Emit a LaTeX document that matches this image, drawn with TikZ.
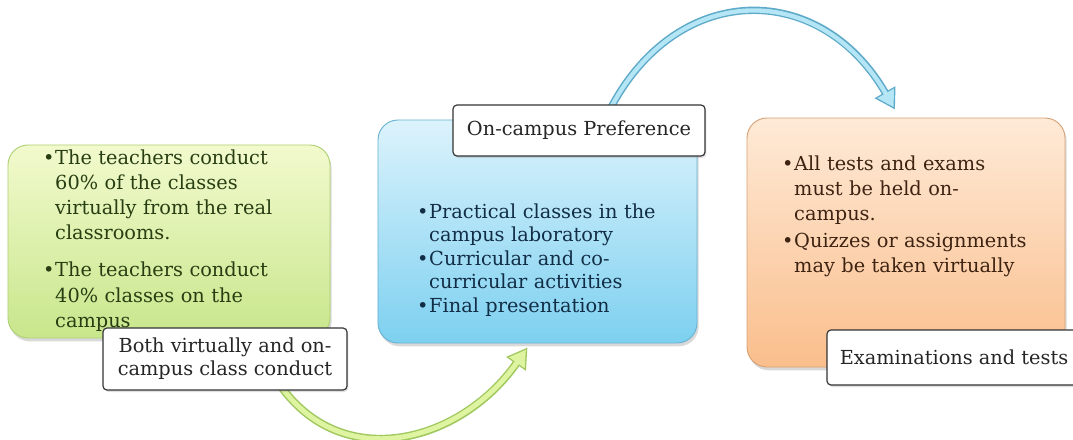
\documentclass[tikz,border=0pt]{standalone}
\usepackage{fontspec}
\setmainfont{DejaVu Serif}
\usepackage{tikz}
\usetikzlibrary{arrows.meta, shadows, positioning}

\definecolor{GreenTop}{RGB}{242,250,205}
\definecolor{GreenBot}{RGB}{200,230,140}
\definecolor{GreenLine}{RGB}{175,208,115}
\definecolor{GreenText}{RGB}{40,62,18}
\definecolor{GreenBand}{RGB}{222,244,160}
\definecolor{GreenEdge}{RGB}{160,200,95}
\definecolor{BlueTop}{RGB}{220,243,252}
\definecolor{BlueBot}{RGB}{125,208,240}
\definecolor{BlueLine}{RGB}{105,178,210}
\definecolor{BlueText}{RGB}{18,45,70}
\definecolor{BlueBand}{RGB}{180,230,246}
\definecolor{BlueEdge}{RGB}{95,170,200}
\definecolor{OrangeTop}{RGB}{254,234,215}
\definecolor{OrangeBot}{RGB}{250,190,140}
\definecolor{OrangeLine}{RGB}{215,162,118}
\definecolor{OrangeText}{RGB}{62,35,18}

% bullet item with hanging indent
\newcommand{\pitem}[1]{\par\hangindent=0.36cm\hangafter=1\noindent
  \makebox[0.36cm][l]{\textbullet}#1\par}

\begin{document}
\begin{tikzpicture}[x=0.03cm, y=0.03cm,
  stage/.style={rectangle, rounded corners=0.6cm, line width=0.8pt,
    drop shadow={opacity=0.3, shadow xshift=0.05cm, shadow yshift=-0.1cm}},
  %
  greenstage/.style={stage, draw=GreenLine, top color=GreenTop,
    bottom color=GreenBot, minimum width=9.66cm, minimum height=5.79cm},
  %
  bluestage/.style={stage, draw=BlueLine, top color=BlueTop,
    bottom color=BlueBot, minimum width=9.57cm, minimum height=6.69cm},
  %
  orangestage/.style={stage, draw=OrangeLine, top color=OrangeTop,
    bottom color=OrangeBot, minimum width=9.54cm, minimum height=7.47cm},
  %
  points/.style={anchor=base west, inner sep=0pt, text width=9cm, align=left,
    font=\fontsize{16.5}{21.5}\selectfont},
  %
  caption/.style={rectangle, rounded corners=0.12cm, draw=black!80,
    line width=1pt, fill=white, align=center, text=black!85,
    font=\fontsize{16.5}{19.6}\selectfont,
    drop shadow={opacity=0.25, shadow xshift=0.04cm, shadow yshift=-0.06cm}},
  %
  gband/.style={line width=0.24cm, draw=GreenEdge,
    -{Triangle[length=0.6cm, width=0.68cm]}},
  gfill/.style={line width=0.15cm, draw=GreenBand, shorten >=0.08cm,
    -{Triangle[length=0.48cm, width=0.54cm]}},
  bband/.style={line width=0.22cm, draw=BlueEdge,
    -{Triangle[length=0.6cm, width=0.68cm]}},
  bfill/.style={line width=0.13cm, draw=BlueBand, shorten >=0.08cm,
    -{Triangle[length=0.48cm, width=0.54cm]}}
  ]

  \useasboundingbox (0,0) rectangle (1073,439);

  % stages
  \node [greenstage] (virtual) at (169,197.5) {};
  \node [bluestage] (campus) at (537.5,207.5) {};
  \node [orangestage] (exams) at (906,196.5) {};

  \node [points, text=GreenText] (virtualtext) at (43,300) {%
    \pitem{The teachers conduct\newline 60\% of the classes\newline
      virtually from the real\newline classrooms.}
    \vspace{0.36cm}
    \pitem{The teachers conduct\newline 40\% classes on the\newline campus}};
  \node [points, text=BlueText, font=\fontsize{16.5}{20}\selectfont]
    (campustext) at (417,244) {%
    \pitem{Practical classes in the\newline campus laboratory}
    \pitem{Curricular and co-\newline curricular activities}
    \pitem{Final presentation}};
  \node [points, text=OrangeText] (examstext) at (782,294) {%
    \pitem{All tests and exams\newline must be held on-\newline campus.}
    \vspace{0.06cm}
    \pitem{Quizzes or assignments\newline may be taken virtually}};

  % connectors
  \draw [gband] ([shift={(103,-34)}]virtual.south) to [out=-60, in=-125,
    looseness=1.2] ([shift={(-10,-4)}]campus.south);
  \draw [gfill] ([shift={(103,-34)}]virtual.south) to [out=-60, in=-125,
    looseness=1.2] ([shift={(-10,-4)}]campus.south);
  \draw [bband] ([shift={(67.5,0)}]campus.north) to [out=65, in=120,
    looseness=1.35] ([shift={(-11,8)}]exams.north);
  \draw [bfill] ([shift={(67.5,0)}]campus.north) to [out=65, in=120,
    looseness=1.35] ([shift={(-11,8)}]exams.north);

  % captions
  \node [caption, minimum width=7.32cm, minimum height=1.86cm] (virtualcap)
    at (225,80) {Both virtually and on-\\campus class conduct};
  \node [caption, minimum width=7.56cm, minimum height=1.53cm] (campuscap)
    at (579,308.5) {On-campus Preference};
  \node [caption, minimum width=7.62cm, minimum height=1.65cm] (examscap)
    at (954,81.5) {Examinations and tests};

\end{tikzpicture}
\end{document}
